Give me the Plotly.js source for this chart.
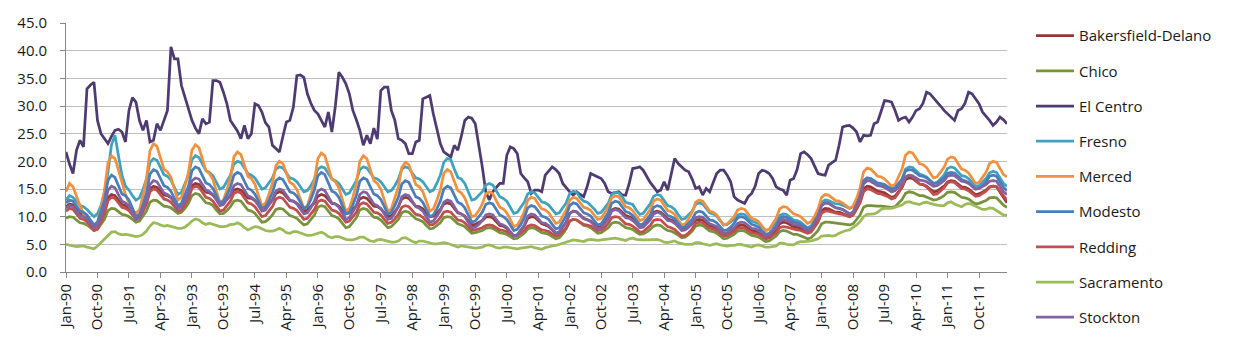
<!DOCTYPE html>
<html>
<head>
<meta charset="utf-8">
<script src="https://cdn.plot.ly/plotly-3.0.1.min.js"></script>
<style>
html,body{margin:0;padding:0;background:#fff;}
#chart{width:1249px;height:352px;}
</style>
</head>
<body>
<div id="chart"></div>
<script>
// Month categories: Jan-90 .. Jun-12
const monthNames = ["Jan","Feb","Mar","Apr","May","Jun","Jul","Aug","Sep","Oct","Nov","Dec"];
const yearLabels = ["90","91","92","93","94","95","96","97","98","99","00","01","02","03","04","05","06","07","08","09","10","11","12"];
const categories = [];
yearLabels.forEach(function(y, yi){
  monthNames.forEach(function(m, mi){
    if (yi < 22 || mi < 6) categories.push(m + "-" + y);
  });
});

const tickLabels = ["Jan-90","Oct-90","Jul-91","Apr-92","Jan-93","Oct-93","Jul-94","Apr-95","Jan-96","Oct-96",
  "Jul-97","Apr-98","Jan-99","Oct-99","Jul-00","Apr-01","Jan-02","Oct-02","Jul-03","Apr-04",
  "Jan-05","Oct-05","Jul-06","Apr-07","Jan-08","Oct-08","Jul-09","Apr-10","Jan-11","Oct-11"];

const seriesNames = ["Bakersfield-Delano","Chico","El Centro","Fresno","Merced","Modesto","Redding","Sacramento","Stockton"];

const bakersfield = [
11.8,12.3,12.1,11.3,10.5,10.3,9.9,9.1,8.3,8.6,9.7,11.2,
13.4,14.0,13.8,13.0,12.2,12.0,11.6,10.8,10.0,10.3,11.4,12.8,
15.0,15.5,15.3,14.6,13.9,13.8,13.4,12.7,12.0,12.2,13.0,14.0,
15.6,16.0,15.8,15.1,14.4,14.3,13.9,13.2,12.5,12.6,13.1,13.8,
14.8,15.0,14.8,14.1,13.4,13.3,12.9,12.2,11.5,11.7,12.3,13.0,
14.2,14.5,14.3,13.6,12.9,12.8,12.4,11.7,11.0,11.2,11.8,12.5,
13.7,14.0,13.8,13.1,12.4,12.3,11.9,11.2,10.5,10.7,11.3,12.0,
13.2,13.5,13.3,12.6,11.9,11.8,11.4,10.7,10.0,10.2,10.9,11.8,
13.2,13.5,13.3,12.6,11.9,11.8,11.4,10.7,10.0,10.1,10.6,11.3,
12.3,12.5,12.3,11.5,10.7,10.5,10.1,9.3,8.5,8.6,8.9,9.3,
9.9,10.0,9.8,9.1,8.4,8.3,7.9,7.2,6.5,6.7,7.4,8.3,
9.7,10.0,9.9,9.3,8.7,8.5,8.2,7.6,7.0,7.2,8.0,9.0,
10.6,11.0,10.9,10.3,9.7,9.5,9.2,8.6,8.0,8.2,8.9,9.8,
11.2,11.5,11.4,10.8,10.2,10.0,9.7,9.1,8.5,8.6,9.1,9.8,
10.8,11.0,10.8,10.2,9.6,9.4,9.1,8.4,7.8,7.9,8.2,8.7,
9.3,9.5,9.4,8.8,8.3,8.2,7.9,7.3,6.8,6.9,7.2,7.7,
8.3,8.5,8.4,7.9,7.5,7.4,7.1,6.7,6.2,6.3,6.9,7.6,
8.7,9.0,8.9,8.6,8.2,8.1,7.9,7.6,7.2,7.4,8.3,9.4,
11.1,11.5,11.4,11.1,10.8,10.8,10.6,10.3,10.0,10.3,11.4,12.8,
15.0,15.5,15.4,15.0,14.6,14.5,14.3,13.9,13.5,13.7,14.4,15.3,
16.7,17.0,16.9,16.4,15.9,15.8,15.5,15.0,14.5,14.6,15.0,15.5,
16.3,16.5,16.4,15.9,15.4,15.3,15.0,14.5,14.0,14.1,14.4,14.8,
15.4,15.5,15.4,14.4,13.3,12.5];

const chico = [
9.7,10.0,9.9,9.4,8.9,8.8,8.5,8.0,7.5,7.7,8.5,9.5,
11.1,11.5,11.4,10.9,10.4,10.3,10.0,9.5,9.0,9.2,10.0,11.0,
12.6,13.0,12.9,12.4,11.9,11.8,11.6,11.1,10.6,10.8,11.5,12.4,
13.8,14.2,14.0,13.3,12.5,12.4,12.0,11.2,10.5,10.6,11.1,11.8,
12.8,13.0,12.8,12.0,11.2,11.0,10.6,9.8,9.0,9.1,9.6,10.3,
11.3,11.5,11.4,10.8,10.2,10.0,9.7,9.1,8.5,8.7,9.4,10.3,
11.7,12.0,11.8,11.0,10.2,10.0,9.6,8.8,8.0,8.2,8.9,9.8,
11.2,11.5,11.3,10.6,9.9,9.8,9.4,8.7,8.0,8.2,8.8,9.5,
10.7,11.0,10.8,10.2,9.6,9.4,9.1,8.4,7.8,7.9,8.4,8.9,
9.8,10.0,9.9,9.3,8.7,8.5,8.2,7.6,7.0,7.1,7.3,7.5,
7.9,8.0,7.9,7.5,7.1,7.0,6.8,6.4,6.0,6.1,6.5,7.0,
7.8,8.0,7.9,7.5,7.1,7.0,6.8,6.4,6.0,6.2,6.9,7.8,
9.2,9.5,9.4,8.9,8.4,8.3,8.0,7.5,7.0,7.1,7.5,8.0,
8.8,9.0,8.9,8.5,8.0,7.9,7.7,7.2,6.8,6.9,7.2,7.7,
8.3,8.5,8.4,7.9,7.5,7.4,7.1,6.7,6.2,6.3,6.8,7.4,
8.3,8.5,8.4,7.9,7.4,7.3,7.0,6.5,6.0,6.1,6.4,6.8,
7.4,7.5,7.4,7.0,6.6,6.5,6.3,5.9,5.5,5.6,6.0,6.5,
7.3,7.5,7.4,7.1,6.8,6.8,6.6,6.3,6.0,6.2,6.8,7.5,
8.7,9.0,9.0,8.9,8.8,8.8,8.7,8.6,8.5,8.7,9.4,10.3,
11.7,12.0,12.0,11.9,11.9,11.9,11.8,11.8,11.7,11.8,12.4,13.1,
14.2,14.5,14.4,14.1,13.8,13.8,13.6,13.3,13.0,13.1,13.4,13.8,
14.4,14.5,14.4,14.0,13.5,13.4,13.2,12.7,12.3,12.4,12.6,12.9,
13.4,13.5,13.4,12.8,12.1,11.7];

const elCentro = [
21.7,19.5,17.8,22.0,23.8,22.6,33.1,33.8,34.3,27.4,25.0,24.0,
23.2,24.5,25.6,25.8,25.3,23.5,29.2,31.5,30.7,27.4,25.6,27.4,
23.5,23.8,26.8,25.6,27.4,29.2,40.7,38.5,38.5,33.7,31.6,29.5,
27.4,26.0,25.0,27.7,26.8,27.1,34.6,34.6,34.3,32.5,30.4,27.4,
26.5,25.5,24.1,26.5,24.1,25.0,30.4,30.1,28.9,27.0,26.2,22.9,
22.3,21.7,24.5,27.1,27.4,29.8,35.5,35.6,35.2,32.2,30.5,29.2,
28.6,27.5,26.2,28.9,25.3,30.0,36.1,35.2,34.0,32.2,29.2,27.5,
25.6,22.9,24.7,23.2,26.0,24.0,32.8,33.4,33.4,29.2,27.4,24.1,
23.8,23.2,21.4,21.4,23.5,23.8,31.3,31.6,31.9,28.6,26.0,23.2,
21.7,21.2,20.8,22.9,22.0,24.5,27.4,28.0,27.8,26.8,23.2,19.0,
14.5,13.0,14.5,15.3,16.0,16.0,21.1,22.6,22.3,21.4,17.8,17.0,
16.3,14.2,14.8,14.8,14.5,17.5,18.2,19.0,18.5,17.8,16.0,15.2,
14.5,13.9,14.5,14.0,13.6,15.5,17.8,17.5,17.2,16.9,16.0,14.5,
14.2,14.3,14.5,13.9,13.9,16.0,18.7,18.8,19.0,18.4,17.2,16.2,
15.4,14.5,14.8,16.3,14.8,17.5,20.5,19.6,19.0,18.4,18.1,16.8,
15.1,15.4,13.9,15.1,14.5,16.0,17.8,18.4,18.4,17.5,16.3,13.6,
13.0,12.7,12.4,13.6,14.2,15.5,17.8,18.4,18.2,17.8,16.9,15.4,
15.0,14.8,13.9,16.6,16.9,18.5,21.4,21.7,21.2,20.5,19.0,17.8,
17.6,17.5,19.3,19.8,20.2,22.9,26.2,26.4,26.5,26.0,25.3,23.5,
24.7,24.6,24.7,26.8,27.1,29.0,31.0,30.9,30.7,29.2,27.4,27.8,
28.0,27.1,28.0,29.2,29.5,30.5,32.5,32.2,31.5,30.7,30.0,29.2,
28.6,28.0,27.4,29.2,29.5,30.5,32.5,32.2,31.3,30.4,28.9,28.2,
27.4,26.5,27.1,28.0,27.5,26.8];

const fresno = [
13.0,13.8,13.5,12.8,12.0,11.8,11.3,10.6,10.0,10.5,12.0,14.5,
18.0,23.0,24.7,21.0,17.5,15.5,14.8,13.8,13.0,13.4,14.9,16.8,
19.8,20.5,20.2,18.9,17.6,17.3,16.6,15.3,14.0,14.4,15.8,17.5,
20.3,21.0,20.7,19.5,18.3,18.0,17.4,16.2,15.0,15.3,16.3,17.5,
19.5,20.0,19.8,18.8,17.8,17.5,17.0,16.0,15.0,15.2,16.0,17.0,
18.6,19.0,18.8,17.9,17.0,16.8,16.3,15.4,14.5,14.7,15.6,16.8,
18.6,19.0,18.8,17.8,16.8,16.5,16.0,15.0,14.0,14.3,15.3,16.5,
18.5,19.0,18.8,17.9,17.0,16.8,16.3,15.4,14.5,14.7,15.6,16.8,
18.6,19.0,18.8,17.9,17.0,16.8,16.3,15.4,14.5,14.8,16.0,17.5,
19.8,20.5,20.3,18.6,17.1,16.8,16.0,14.5,13.0,13.2,13.8,14.5,
15.7,16.0,15.7,14.7,13.6,13.3,12.8,11.7,10.6,10.8,11.6,12.6,
14.1,14.5,14.3,13.5,12.7,12.5,12.1,11.3,10.5,10.7,11.5,12.5,
14.2,14.6,14.4,13.4,12.8,12.6,12.0,11.4,10.6,10.8,11.6,12.4,
14.0,14.4,14.3,13.6,12.6,12.4,12.2,11.2,10.4,10.6,11.4,12.3,
13.7,14.0,13.8,12.9,12.0,11.8,11.3,10.4,9.5,9.7,10.3,11.0,
12.2,12.5,12.3,11.5,10.7,10.5,10.1,9.3,8.5,8.6,9.0,9.5,
10.3,10.5,10.4,9.8,9.2,9.0,8.7,8.1,7.5,7.7,8.3,9.0,
10.2,10.5,10.4,9.9,9.4,9.3,9.0,8.5,8.0,8.3,9.3,10.5,
12.5,13.0,12.9,12.6,12.3,12.3,12.1,11.8,11.5,11.8,12.9,14.3,
16.5,17.0,16.9,16.4,15.9,15.8,15.5,15.0,14.5,14.7,15.6,16.8,
18.6,19.0,18.9,18.3,17.7,17.5,17.2,16.6,16.0,16.2,16.8,17.5,
18.7,19.0,18.8,18.1,17.4,17.3,16.9,16.2,15.5,15.6,16.2,16.9,
17.9,18.2,18.0,17.0,16.0,15.5];

const merced = [
14.5,16.0,15.4,13.5,12.0,10.5,9.0,8.3,8.5,8.9,11.5,14.7,
19.7,21.0,20.5,18.4,16.3,14.0,12.5,11.2,10.6,11.2,13.8,16.9,
21.9,23.2,22.7,20.7,18.6,18.1,17.1,15.0,13.0,13.5,15.5,18.0,
22.0,23.0,22.5,20.4,18.3,17.8,16.7,14.6,12.5,13.0,14.8,17.1,
20.8,21.7,21.2,19.3,17.3,16.9,15.9,13.9,12.0,12.4,14.0,16.0,
19.2,20.0,19.6,17.9,16.2,15.8,14.9,13.2,11.5,12.0,14.0,16.5,
20.5,21.5,21.0,18.9,16.8,16.3,15.2,13.1,11.0,11.5,13.5,16.0,
20.0,21.0,20.5,18.5,16.5,16.0,15.0,13.0,11.0,11.4,13.2,15.4,
18.9,19.8,19.4,17.6,15.8,15.4,14.5,12.8,11.0,11.4,12.9,14.8,
17.8,18.5,18.1,16.4,14.7,14.3,13.4,11.7,10.0,10.2,11.1,12.3,
14.1,14.5,14.2,12.9,11.7,11.4,10.7,9.5,8.2,8.5,9.5,10.9,
13.0,13.5,13.3,12.3,11.4,11.2,10.7,9.7,8.8,9.0,10.0,11.2,
13.0,13.5,13.3,12.5,11.7,11.5,11.1,10.3,9.5,9.7,10.6,11.7,
13.4,13.8,13.6,12.7,11.8,11.6,11.1,10.2,9.3,9.5,10.3,11.3,
12.8,13.2,13.0,12.0,11.1,10.9,10.4,9.4,8.5,8.7,9.6,10.8,
12.6,13.0,12.8,11.9,11.0,10.8,10.3,9.4,8.5,8.7,9.3,10.0,
11.2,11.5,11.3,10.5,9.7,9.5,9.1,8.3,7.5,7.7,8.6,9.7,
11.4,11.8,11.7,11.1,10.5,10.3,10.0,9.4,8.8,9.1,10.1,11.4,
13.5,14.0,13.9,13.4,12.9,12.8,12.5,12.0,11.5,11.9,13.3,15.2,
18.1,18.8,18.6,18.0,17.3,17.2,16.8,16.2,15.5,15.8,17.1,18.6,
21.1,21.7,21.5,20.5,19.6,19.4,18.9,17.9,17.0,17.2,18.0,18.9,
20.4,20.8,20.6,19.6,18.6,18.4,17.9,17.0,16.0,16.2,17.0,18.0,
19.6,20.0,19.8,18.6,17.6,17.2];

const modesto = [
12.5,13.0,12.8,11.9,11.0,10.8,10.3,9.4,8.5,9.0,10.8,13.0,
16.6,17.5,17.1,15.6,14.1,13.8,13.0,11.5,10.0,10.4,12.1,14.3,
17.7,18.5,18.2,16.9,15.6,15.3,14.6,13.3,12.0,12.4,13.8,15.5,
18.3,19.0,18.7,17.4,16.1,15.8,15.1,13.8,12.5,12.8,13.9,15.3,
17.5,18.0,17.7,16.4,15.1,14.8,14.1,12.8,11.5,11.8,12.9,14.3,
16.5,17.0,16.7,15.6,14.5,14.3,13.7,12.6,11.5,11.8,13.1,14.8,
17.4,18.0,17.6,16.1,14.6,14.3,13.5,12.0,10.5,10.8,12.1,13.8,
16.4,17.0,16.7,15.4,14.1,13.8,13.1,11.8,10.5,10.8,12.0,13.5,
15.9,16.5,16.2,14.9,13.6,13.3,12.6,11.3,10.0,10.3,11.4,12.8,
15.0,15.5,15.2,13.9,12.6,12.3,11.6,10.3,9.0,9.2,9.9,10.8,
12.2,12.5,12.3,11.3,10.3,10.0,9.5,8.5,7.5,7.7,8.6,9.8,
11.6,12.0,11.8,11.0,10.1,9.9,9.5,8.6,7.8,8.0,9.0,10.2,
12.0,12.5,12.3,11.5,10.7,10.5,10.1,9.3,8.5,8.7,9.6,10.7,
12.4,12.8,12.6,11.7,10.9,10.7,10.2,9.4,8.5,8.7,9.4,10.3,
11.7,12.0,11.8,11.0,10.2,10.0,9.6,8.8,8.0,8.2,8.8,9.5,
10.7,11.0,10.8,10.1,9.4,9.3,8.9,8.2,7.5,7.6,8.1,8.8,
9.8,10.0,9.8,9.2,8.6,8.4,8.1,7.4,6.8,7.0,7.6,8.4,
9.7,10.0,9.9,9.5,9.0,8.9,8.7,8.2,7.8,8.0,9.0,10.2,
12.0,12.5,12.4,12.0,11.6,11.5,11.3,10.9,10.5,10.8,12.1,13.8,
16.4,17.0,16.9,16.5,16.1,16.0,15.8,15.4,15.0,15.2,15.9,16.8,
18.2,18.5,18.4,17.9,17.4,17.3,17.0,16.5,16.0,16.1,16.5,17.0,
17.8,18.0,17.9,17.3,16.7,16.5,16.2,15.6,15.0,15.1,15.6,16.3,
17.3,17.5,17.3,16.3,15.3,14.7];

const redding = [
11.0,11.5,11.3,10.5,9.7,9.5,9.1,8.3,7.5,7.8,9.0,10.5,
12.9,13.5,13.3,12.5,11.7,11.5,11.1,10.3,9.5,9.8,10.9,12.3,
14.5,15.0,14.8,14.0,13.2,13.0,12.6,11.8,11.0,11.2,12.1,13.3,
15.1,15.5,15.3,14.4,13.5,13.3,12.8,11.9,11.0,11.2,11.9,12.8,
14.2,14.5,14.3,13.4,12.5,12.3,11.8,10.9,10.0,10.2,10.9,11.8,
13.2,13.5,13.3,12.5,11.7,11.5,11.1,10.3,9.5,9.7,10.4,11.3,
12.7,13.0,12.8,12.0,11.2,11.0,10.6,9.8,9.0,9.2,9.9,10.8,
12.2,12.5,12.3,11.6,10.8,10.7,10.3,9.5,8.8,9.0,9.6,10.4,
11.7,12.0,11.8,11.1,10.4,10.3,9.9,9.2,8.5,8.6,9.1,9.8,
10.8,11.0,10.8,10.1,9.4,9.3,8.9,8.2,7.5,7.6,7.8,8.0,
8.4,8.5,8.4,8.0,7.6,7.5,7.3,6.9,6.5,6.6,7.0,7.5,
8.3,8.5,8.4,8.0,7.6,7.5,7.3,6.9,6.5,6.7,7.3,8.0,
9.2,9.5,9.4,9.0,8.6,8.5,8.3,7.9,7.5,7.6,8.1,8.8,
9.8,10.0,9.9,9.3,8.7,8.6,8.3,7.8,7.2,7.3,7.8,8.4,
9.3,9.5,9.4,8.8,8.2,8.0,7.7,7.1,6.5,6.6,7.1,7.8,
8.8,9.0,8.9,8.4,7.9,7.8,7.5,7.0,6.5,6.6,6.9,7.3,
7.9,8.0,7.9,7.5,7.1,7.0,6.8,6.4,6.0,6.1,6.6,7.1,
8.0,8.2,8.1,7.9,7.7,7.6,7.5,7.2,7.0,7.2,8.0,9.0,
10.6,11.0,11.0,10.8,10.6,10.5,10.4,10.2,10.0,10.3,11.3,12.5,
14.5,15.0,14.9,14.6,14.2,14.1,13.9,13.6,13.2,13.4,14.3,15.4,
17.1,17.5,17.3,16.6,15.9,15.8,15.4,14.7,14.0,14.1,14.6,15.2,
16.1,16.3,16.2,15.7,15.1,15.0,14.7,14.2,13.7,13.8,14.2,14.6,
15.3,15.5,15.4,14.6,13.7,13.0];

const sacramento = [
5.0,4.8,4.7,4.6,4.6,4.7,4.5,4.3,4.2,4.7,5.3,5.9,
6.6,7.2,7.3,6.9,6.7,6.8,6.7,6.5,6.4,6.5,6.8,7.4,
8.3,8.9,8.8,8.5,8.3,8.4,8.2,8.0,7.9,7.9,8.1,8.6,
9.2,9.6,9.4,8.9,8.6,8.8,8.6,8.4,8.2,8.2,8.3,8.6,
8.6,8.9,8.6,8.0,7.6,7.9,8.2,8.1,7.8,7.5,7.4,7.4,
7.6,7.9,7.6,7.1,7.0,7.3,7.3,7.1,6.8,6.6,6.6,6.8,
7.1,7.2,6.9,6.4,6.2,6.4,6.4,6.1,5.9,5.8,5.8,6.0,
6.3,6.3,6.0,5.6,5.5,5.8,5.9,5.7,5.5,5.4,5.4,5.6,
6.1,6.2,5.9,5.5,5.3,5.6,5.6,5.4,5.2,5.1,5.1,5.2,
5.3,5.2,5.0,4.7,4.5,4.7,4.6,4.4,4.3,4.3,4.4,4.5,
4.8,4.9,4.7,4.4,4.3,4.5,4.5,4.4,4.2,4.2,4.3,4.4,
4.6,4.6,4.4,4.2,4.1,4.4,4.6,4.7,4.8,5.0,5.2,5.5,
5.7,5.8,5.7,5.6,5.5,5.8,5.9,5.8,5.7,5.8,5.9,6.0,
6.1,6.1,6.0,5.8,5.7,6.0,6.1,5.9,5.8,5.8,5.8,5.8,
5.9,5.9,5.7,5.4,5.3,5.5,5.6,5.3,5.1,5.0,5.0,5.0,
5.3,5.3,5.1,4.9,4.8,5.0,5.1,4.9,4.8,4.7,4.8,4.8,
5.0,5.0,4.8,4.6,4.5,4.8,4.9,4.7,4.5,4.5,4.6,4.7,
5.2,5.2,5.0,4.9,4.9,5.3,5.5,5.5,5.5,5.6,5.8,6.0,
6.5,6.6,6.6,6.5,6.6,7.0,7.3,7.5,7.6,8.0,8.5,9.1,
10.0,10.4,10.5,10.5,10.8,11.3,11.5,11.5,11.5,11.7,11.9,12.1,
12.6,12.7,12.5,12.3,12.2,12.5,12.6,12.4,12.2,12.1,12.0,12.0,
12.5,12.7,12.3,12.0,11.8,12.2,12.4,12.2,11.9,11.6,11.3,11.3,
11.6,11.5,11.1,10.6,10.3,10.3];

const stockton = [
11.5,12.0,11.8,11.0,10.2,10.0,9.6,8.8,8.0,8.4,9.9,11.8,
14.8,15.5,15.2,14.0,12.8,12.5,11.9,10.7,9.5,9.9,11.3,13.0,
15.8,16.5,16.3,15.3,14.3,14.0,13.5,12.5,11.5,11.8,12.9,14.3,
16.5,17.0,16.8,15.8,14.8,14.5,14.0,13.0,12.0,12.2,13.0,14.0,
15.6,16.0,15.8,14.8,13.8,13.5,13.0,12.0,11.0,11.2,12.0,13.0,
14.6,15.0,14.8,13.9,13.0,12.8,12.3,11.4,10.5,10.7,11.6,12.8,
14.6,15.0,14.7,13.6,12.5,12.3,11.7,10.6,9.5,9.8,10.8,12.0,
14.0,14.5,14.3,13.3,12.3,12.0,11.5,10.5,9.5,9.7,10.6,11.8,
13.6,14.0,13.8,12.8,11.8,11.5,11.0,10.0,9.0,9.2,10.0,11.0,
12.6,13.0,12.8,11.8,10.8,10.5,10.0,9.0,8.0,8.1,8.6,9.3,
10.3,10.5,10.3,9.5,8.7,8.5,8.1,7.3,6.5,6.7,7.5,8.5,
10.1,10.5,10.3,9.6,8.9,8.8,8.4,7.7,7.0,7.2,8.0,9.0,
10.6,11.0,10.8,10.2,9.6,9.4,9.1,8.4,7.8,8.0,8.7,9.6,
11.0,11.3,11.1,10.5,9.8,9.7,9.3,8.7,8.0,8.1,8.7,9.4,
10.5,10.8,10.6,10.0,9.3,9.2,8.8,8.2,7.5,7.6,8.1,8.8,
9.8,10.0,9.9,9.3,8.7,8.5,8.2,7.6,7.0,7.1,7.5,8.0,
8.8,9.0,8.9,8.4,7.9,7.8,7.5,7.0,6.5,6.7,7.3,8.0,
9.2,9.5,9.4,9.0,8.6,8.5,8.3,7.9,7.5,7.8,8.8,10.0,
12.0,12.5,12.4,12.0,11.6,11.5,11.3,10.9,10.5,10.8,12.1,13.5,
15.9,16.5,16.4,16.0,15.6,15.5,15.3,14.9,14.5,14.7,15.3,16.0,
17.2,17.5,17.4,17.0,16.6,16.5,16.3,15.9,15.5,15.6,16.0,16.5,
17.3,17.5,17.4,16.9,16.4,16.3,16.0,15.5,15.0,15.1,15.4,15.8,
16.4,16.5,16.4,15.5,14.5,14.0];

const seriesValues = [bakersfield, chico, elCentro, fresno, merced, modesto, redding, sacramento, stockton];
const seriesColors = ["#953735","#77933C","#4E3B72","#3FA3C0","#F0913F","#4A7EBB","#C0504D","#9BBB59","#8064A2"];

const traces = seriesNames.map(function(name, i){
  return {
    type: "scatter",
    mode: "lines",
    name: name,
    legendgroup: "g" + i,
    x: categories,
    y: seriesValues[i],
    line: {color: seriesColors[i], width: 2.75},
    hoverinfo: "skip"
  };
});

const fontFam = "'Open Sans', 'Noto Sans', sans-serif";

const layout = {
  width: 1249,
  height: 352,
  margin: {l: 66, r: 242, t: 23, b: 80, pad: 0, autoexpand: false},
  paper_bgcolor: "#ffffff",
  plot_bgcolor: "#ffffff",
  font: {family: fontFam, size: 15, color: "#1a1a1a"},
  showlegend: true,
  legend: {
    x: 1.0255, xanchor: "left",
    yref: "container",
    y: 0.945, yanchor: "top",
    maxheight: 345,
    font: {family: fontFam, size: 15, color: "#1a1a1a"},
    tracegroupgap: 12.7,
    itemwidth: 38,
    bgcolor: "rgba(0,0,0,0)",
    borderwidth: 0
  },
  xaxis: {
    type: "category",
    range: [0, categories.length - 1],
    tickmode: "array",
    tickvals: tickLabels,
    ticktext: tickLabels,
    tickangle: -90,
    ticks: "outside",
    ticklen: 5,
    tickcolor: "#868686",
    showline: true,
    linecolor: "#868686",
    linewidth: 1,
    showgrid: false,
    zeroline: false,
    automargin: false,
    tickfont: {family: fontFam, size: 15, color: "#1a1a1a"},
    fixedrange: true
  },
  yaxis: {
    range: [0, 45],
    dtick: 5,
    tick0: 0,
    tickformat: ".1f",
    ticks: "outside",
    ticklen: 5,
    tickcolor: "#868686",
    ticklabelstandoff: 10,
    showline: true,
    linecolor: "#868686",
    linewidth: 1,
    showgrid: true,
    gridcolor: "#BFBFBF",
    gridwidth: 1,
    zeroline: false,
    automargin: false,
    tickfont: {family: fontFam, size: 15, color: "#1a1a1a"},
    fixedrange: true
  }
};

Plotly.newPlot("chart", traces, layout, {displayModeBar: false, staticPlot: true});
</script>
</body>
</html>
